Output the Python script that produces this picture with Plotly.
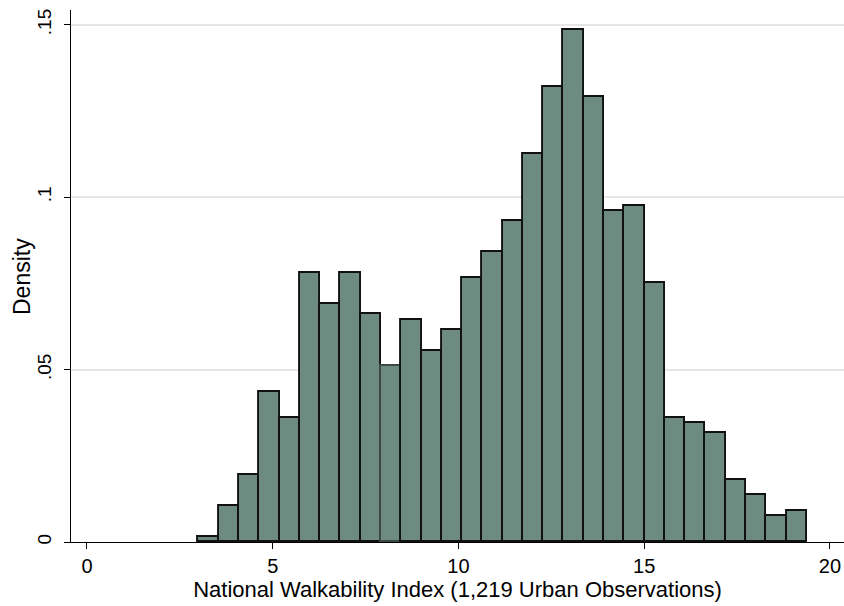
import plotly.graph_objects as go

# Histogram data (30 bins)
bin_start = 3.0
bin_width = 0.546
density = [0.0015, 0.0105, 0.0195, 0.0435, 0.0360, 0.0780, 0.0690, 0.0780, 0.0660, 0.0510,
           0.0645, 0.0555, 0.0615, 0.0765, 0.0840, 0.0930, 0.1125, 0.1320, 0.1485, 0.1290,
           0.0960, 0.0975, 0.0750, 0.0360, 0.0345, 0.0315, 0.0180, 0.0135, 0.0075, 0.0090]
x_ticks = [0, 5, 10, 15, 20]
x_tick_labels = ["0", "5", "10", "15", "20"]
y_ticks = [0, 0.05, 0.1, 0.15]
y_tick_labels = ["0", ".05", ".1", ".15"]

centers = [bin_start + bin_width * (i + 0.5) for i in range(len(density))]
line_colors = ["#111111"] * len(density)
line_colors[9] = "#3c4a45"

fig = go.Figure(go.Bar(
    x=centers, y=density, width=bin_width,
    marker=dict(color="#6d8b80", line=dict(color=line_colors, width=1.9)),
))

family = "Liberation Sans, Arial, sans-serif"
fig.update_layout(
    width=844, height=606,
    margin=dict(l=71, r=0, t=10, b=64),
    plot_bgcolor="white", paper_bgcolor="white",
    font=dict(family=family, size=20, color="#000000"), showlegend=False, bargap=0,
    annotations=[dict(
        text="Density", xref="paper", yref="paper", x=-0.0634, y=0.5,
        xanchor="center", yanchor="middle", textangle=-90, showarrow=False,
        font=dict(family=family, size=23, color="#000000"),
    )],
)
fig.update_xaxes(
    range=[-0.43, 20.38], tickvals=x_ticks, ticktext=x_tick_labels, automargin=False,
    tickfont=dict(family=family, size=20, color="#000000"),
    showgrid=False, zeroline=False, showline=True, linecolor="#000000", linewidth=1.2,
    ticks="outside", ticklen=6, tickcolor="#000000", tickwidth=1.2,
    title=dict(text="National Walkability Index (1,219 Urban Observations)", standoff=2,
               font=dict(family=family, size=22, color="#000000")),
)
fig.update_yaxes(
    range=[0, 0.1543], tickvals=y_ticks, ticktext=y_tick_labels, tickangle=-90,
    automargin=False, ticklabelstandoff=5,
    tickfont=dict(family=family, size=19, color="#000000"),
    showgrid=True, gridcolor="#e6e6e6", gridwidth=1.5, zeroline=False,
    showline=True, linecolor="#000000", linewidth=1.2,
    ticks="outside", ticklen=6, tickcolor="#000000", tickwidth=1.2,
)
fig.write_html(
    "out.html",
    config={"displayModeBar": False},
    post_script="document.body.style.margin='0';document.body.style.overflow='hidden';",
)
